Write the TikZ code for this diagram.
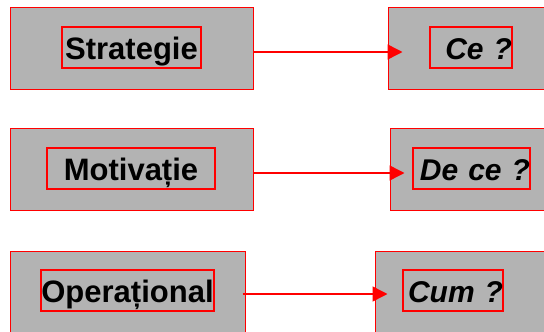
\documentclass[tikz,border=0pt]{standalone}
\usepackage{fontspec}
\setmainfont{Liberation Sans}
\usetikzlibrary{arrows.meta,positioning}
\definecolor{boxgray}{RGB}{179,179,179}

\begin{document}
\begin{tikzpicture}
    [x=1pt,y=-1pt,
    outer/.style={rectangle,draw=red,fill=boxgray,line width=1pt,
    inner sep=0pt,minimum width=243pt,minimum height=82pt},
    word/.style={rectangle,draw=red,line width=1.5pt,inner sep=0pt,
    minimum height=41pt,text height=23pt,text depth=0pt,
    font=\fontsize{31}{36}\selectfont\bfseries},
    ask/.style={word,align=right,font=\fontsize{30}{36}\selectfont\bfseries\itshape},
    link/.style={draw=red,line width=1.5pt,-{Triangle[length=15pt,width=15pt]}}]
    \useasboundingbox (0,0) rectangle (544,332);
    \clip (0,0) rectangle (544,332);
    % left column
    \node (strategy box) [outer] at (131.5,48) {};
    \node (motive box) [outer] at (131.5,169.5) {};
    \node (operation box) [outer,minimum width=235pt] at (127.5,292) {};
    \node (strategy) [word,text width=139pt,align=center] at (131.5,47.5) {Strategie};
    \node (motive) [word,text width=168pt,align=center] at (131,168.5) {Motivație};
    \node (operation) [word,text width=173pt,align=center] at (127.5,290.5) {Operațional};
    % right column
    \node (what box) [outer,minimum width=180pt] at (478,48) {};
    \node (why box) [outer,minimum width=180pt] at (480,169.5) {};
    \node (how box) [outer,minimum width=180pt] at (465,292) {};
    \node (what) [ask,text width=82pt] at (471,47.5) {Ce\ ?};
    \node (why) [ask,text width=117pt] at (471.5,168.5) {De ce\ ?};
    \node (how) [ask,text width=100pt] at (453,290.5) {Cum\ ?};
    % arrows
    \draw [link] ([yshift=-4pt]strategy box.east) -- ([xshift=15pt,yshift=-4pt]what box.west);
    \draw [link] ([yshift=-3.5pt]motive box.east) -- ([xshift=15pt,yshift=-3.5pt]why box.west);
    \draw [link] ([xshift=-3pt,yshift=-2pt]operation box.east) -- ([xshift=13pt,yshift=-2pt]how box.west);
\end{tikzpicture}
\end{document}
